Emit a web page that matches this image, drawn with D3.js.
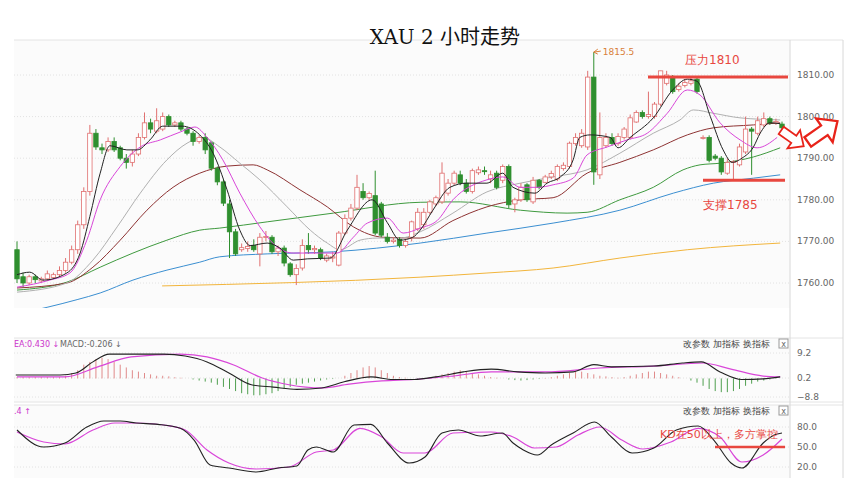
<!DOCTYPE html>
<html><head><meta charset="utf-8">
<script src="https://cdn.jsdelivr.net/npm/d3@7"></script>
<style>body{margin:0;background:#fff}text{font-family:"DejaVu Sans",sans-serif}</style>
</head><body><div id="chart"></div>
<script>
// candles [open, high, low, close]
var candles = [
[1768,1770,1760,1761],[1761.5,1762.5,1759,1760],[1760,1762,1759.5,1761.5],[1761.5,1762,1760,1760.8],[1760.5,1761.5,1760,1761],
[1761,1763,1760.5,1762.2],[1761.3,1762.5,1761,1762],[1762,1764,1761.5,1763],[1763,1766,1762.5,1765],[1765,1769,1764.5,1768],
[1768,1775,1767,1774],[1774,1783,1773,1782],[1782,1798,1781,1796],[1796,1797,1792,1792.7],[1792.5,1793.5,1791,1792],
[1792,1795,1791.5,1794],[1794,1795,1791.5,1792],[1792.5,1793,1789.5,1790],[1790,1791,1787.5,1789],[1789,1792,1788,1791],
[1791,1796,1790.5,1795],[1795,1801,1794.5,1798.5],[1798.5,1799.5,1796,1797],[1796.5,1802,1796,1799],[1797,1801,1796.5,1800],
[1800,1800.5,1797.5,1798],[1798,1799,1797.5,1798.5],[1798.5,1799,1796.5,1797],[1797,1797.5,1795.5,1796],[1796,1796.5,1793,1794],
[1794,1795.5,1793.5,1795],[1795,1796,1791,1792],[1793.7,1794,1787,1787.6],[1787.6,1788,1783.5,1784.3],[1784.3,1785,1778.5,1779.2],
[1779,1780,1766,1772.3],[1772.3,1773,1766.5,1767],[1768,1769.5,1767.5,1768.5],[1768.3,1770,1767.5,1768.8],[1769,1770.5,1767.5,1768],
[1767,1772,1764,1771],[1771,1772.5,1770,1771.2],[1771,1771.5,1767,1767.5],[1767.5,1769,1766.5,1768.4],[1768.4,1769,1764,1764.8],
[1764.6,1765,1761.5,1762],[1762,1764.5,1759.5,1763.5],[1763.6,1770.5,1763,1769],[1769,1772,1767,1768],[1768,1769,1767,1768.3],
[1768,1768.5,1765.5,1766],[1765.5,1767,1765,1766.5],[1766,1767.5,1765,1766.3],[1764.3,1772.5,1764,1772],[1772,1776.5,1771.5,1775.5],
[1775.6,1779,1775,1778],[1778,1786,1777.5,1783],[1782,1784,1780,1780.5],[1780.5,1782,1780,1781.5],[1781,1787,1771.5,1772],
[1779,1779.5,1771,1771.5],[1771,1772,1769.5,1770],[1770,1771,1769.5,1770.3],[1770.5,1771,1768.5,1769],[1769,1770.5,1768.5,1770],
[1771,1775,1770,1774.7],[1773,1778,1772.5,1777],[1774,1778,1773,1777],[1777,1780,1776.5,1779.5],[1779,1781,1778.5,1780.5],
[1779.5,1789,1779,1786.4],[1781.6,1785,1781,1784],[1784,1787,1783.5,1786.4],[1786,1787,1783.5,1784],[1784,1785,1781.5,1782],
[1782,1787.5,1781.5,1787],[1786.5,1788,1786,1787.2],[1787,1788,1786,1786.8],[1785,1787,1784,1786],[1786.4,1787,1782.5,1783],
[1784.7,1788.5,1784,1788],[1788,1788.5,1778,1778.8],[1779,1780.5,1777,1780],[1780,1784,1779.5,1783],[1783.6,1784,1779.5,1780],
[1779.5,1785.5,1779,1784.7],[1784.7,1785,1782.5,1783],[1784.2,1786,1784,1785.5],[1785.5,1787,1785,1786.3],[1785,1788.5,1784.5,1788],
[1787.5,1789,1787,1788.3],[1788,1794,1787.5,1793.6],[1793.5,1796,1793,1795],[1793,1797,1792.5,1796],[1792.7,1811,1792,1809.5],
[1809.5,1815.5,1783.6,1786.7],[1786,1801,1785,1795],[1793,1796,1792.5,1795],[1795,1796,1793,1793.5],[1793.5,1796,1793,1795.2],
[1795,1797.5,1794.5,1797],[1795,1800.5,1794.5,1799.7],[1798.7,1801.5,1798.5,1801],[1801,1801.5,1799.5,1800],[1800,1806,1799.5,1800.5],
[1800,1803.5,1799.5,1803],[1803,1811,1802.5,1811],[1808,1811,1807.5,1810],[1809.5,1810,1805.5,1806],[1806.5,1808,1806,1807.3],
[1807.5,1809,1807,1808.2],[1808,1809.5,1807.5,1808.6],[1809,1809.5,1805.5,1806],[1795,1795.5,1794.5,1795],[1795,1795.5,1789,1789.5],
[1790.5,1791,1789.5,1790],[1790,1790.5,1786,1786.7],[1786.4,1790,1786,1789],[1789,1789.5,1785,1789.2],[1788.4,1793.5,1788,1792.7],
[1791.5,1800,1791,1797],[1797,1797.5,1786,1796.5],[1796,1800,1795.5,1799],[1798,1801,1797.5,1799.5],[1799.5,1800,1798,1798.5],
[1798.5,1799.5,1798,1798.8],[1798.2,1798.8,1797,1797.3]
];

// moving averages: [candle index, price]
var ma5 = [[0,1762],[2.1,1762.6],[4.3,1760.7],[8.2,1762.4],[10.4,1767.2],[12,1776],[13.7,1786.4],[15.3,1793],[18.1,1792],[19.8,1792],[21.9,1794.4],[24,1797.7],[27.2,1797.7],[30.1,1795.6],[32.3,1791.2],[34.6,1782.4],[36.7,1772.7],[38.4,1769],[41.2,1769.6],[43.3,1768.4],[45.5,1765.5],[47.8,1765.8],[51.6,1766],[54.4,1772.7],[58.5,1780],[61,1774.5],[63.1,1770.3],[65.2,1771],[66.4,1772.7],[68.5,1777.5],[71.3,1783],[74.1,1784],[77.4,1784],[80,1786.4],[81.7,1783],[85.3,1781.6],[87.3,1784],[89.5,1785.5],[91.6,1789.6],[92.7,1795],[94.4,1795.6],[97.7,1795],[99,1792.5],[101,1795],[104.8,1799.7],[108,1806.4],[110.4,1809],[112,1808.5],[114.2,1800],[116.3,1792],[117.8,1789],[119.4,1790],[121.3,1792.7],[122.4,1796],[124,1798.5],[125.7,1798.3]];
var ma10 = [[0,1759],[5.4,1760.7],[8.7,1762.4],[11.5,1770.3],[13.7,1780],[17,1788],[20.3,1792.7],[23.6,1794.4],[26.9,1796.3],[29.3,1797.5],[31.3,1795],[33.9,1789.6],[36.7,1781.6],[40,1773.5],[42.8,1768.7],[45.5,1767.2],[49.9,1767.2],[52.7,1767.2],[55.4,1771],[57.7,1774.4],[61,1775.6],[63.6,1772],[66.4,1773.2],[69.2,1775],[71.8,1780],[77.4,1784.8],[80,1785.5],[82.9,1783],[85.7,1783],[88.3,1783.6],[91.6,1785.2],[93.9,1790.8],[97.2,1792.7],[100.5,1794.4],[103.8,1796],[107.1,1800.8],[110.4,1806.4],[112.5,1805.2],[115.8,1798.5],[119.1,1794.4],[121.9,1792.5],[125.2,1795]];
var ma20 = [[0,1757.8],[8.2,1760],[12.5,1765.5],[16.5,1773.5],[20.3,1781.6],[24.7,1789.6],[28,1793.6],[30.6,1795],[33.4,1792.7],[36.7,1788.8],[40,1784.8],[44.5,1778.3],[48.3,1772.7],[51.1,1769.6],[53.2,1768],[56.5,1770.3],[59.3,1770.8],[63.1,1770.8],[66.4,1772.3],[71.8,1776.8],[77.4,1781.9],[82.9,1784],[88.3,1785.5],[93.9,1787.2],[99.3,1791.2],[104.8,1796],[109.2,1799.2],[111.4,1801.6],[114.7,1800.8],[119.1,1799.7],[125.7,1799.2]];
var ma30 = [[0,1758.8],[8.2,1760],[12.5,1763.8],[17,1770.3],[21.4,1777.5],[25.7,1783],[30.1,1786.4],[34.6,1788.1],[38.9,1788.4],[41.2,1787.2],[46.6,1782.4],[51.1,1778.3],[55.4,1773.5],[60.3,1771],[66.4,1770.8],[71.8,1775],[77.4,1778.3],[82.9,1780],[88.3,1780.5],[93.9,1786.4],[99.3,1789],[104.8,1792],[110.4,1795.6],[114.7,1797.3],[121.3,1798],[125.7,1798.5]];
var ma60 = [[0,1758.3],[8.2,1760.2],[13.7,1763.8],[19.1,1767.2],[24.7,1770.3],[30.1,1772.7],[33.4,1773.2],[41.2,1774.7],[52.1,1776.8],[66.4,1779.4],[73,1779.5],[82.9,1777.5],[90.6,1776.8],[93.9,1777],[99.3,1780],[104.8,1783],[109.7,1787.2],[112.5,1788.4],[115.8,1788.8],[121.3,1790.3],[125.7,1792.5]];
var ma120 = [[0,1752.5],[9.9,1756],[13.7,1757.6],[19.1,1760.7],[24.7,1763.1],[30.1,1765],[33.4,1766.3],[41.2,1767],[52.1,1767.5],[66.4,1769.6],[77.4,1772],[88.3,1774.4],[99.3,1777.5],[108.1,1781.6],[114.7,1784],[121.3,1785.2],[125.7,1786]];
var ma250 = [[23.9,1759.3],[66.4,1761.4],[77.4,1762.4],[88.3,1763.6],[99.3,1766],[110.4,1768],[125.7,1769.6]];

var dif = [[-0.2,1.3],[7.1,1.3],[9.7,2],[12.5,6],[15.2,8.8],[18.8,8.8],[24.2,8.8],[27.7,8.1],[31.3,6],[34.9,2],[38.6,-3],[42.2,-4.1],[46.1,-5.2],[50.2,-4.5],[53.9,-1.6],[58.3,0.6],[61.9,-0.5],[65.4,-0.5],[69,0.6],[73.5,2.4],[78.1,3.4],[82.5,2.4],[87,2],[91.6,2.4],[95,5],[97.9,4.2],[104.9,4.5],[109.6,5.6],[112.7,6],[115.8,2.4],[119.4,-0.5],[122.9,-0.2],[125.7,0.6]];
var dea = [[0,0.6],[7.9,0.6],[13.3,4.2],[18.8,7.8],[26.9,8.8],[31.3,7.8],[35.7,4.9],[40.4,0.2],[44.8,-3],[50.2,-4.5],[54.7,-2.7],[60.1,-1.2],[65.4,-0.5],[71.8,0.9],[78.1,2.4],[87,2.4],[96,3.8],[104.9,4.5],[113,5.6],[117.6,3.4],[122.9,0.9],[125.7,0.6]];
var macdHist = [0.5,0.5,0.5,0.5,0.5,0.5,0.5,0.5, 1,2,3,5,6, 7,7.5,7,6,5,4, 3,2.5,2,1.5,1,1,0.8,0.5,0.3,
  0,-0.5,-1,-1.5, -2,-3,-4,-5,-6,-7,-7.5,-8,-8,-7.5,-7,-6,-5,-4, -3,-2.5,-2,-1.5,-1,-0.5,-0.3,0,
  1,2,3,4,4.5,4,3,2,1, 0.5,0.3,0,-0.3,0.2,0.5,1,1.5, 2,2.5,3,2.5,2,1.5,1,0.5,0.3,0,
  -0.5,-0.8,-1,-0.8,-0.5,-0.3,0.2,0.5, 1,1.5,2,2.5,2.5,2,1.5, 1,0.8,0.5,0.3,0.5,1,1.5,2,2.5,2.5,2,
  1.5,1,0.5,0,-1,-2, -3.5,-5,-6,-6.5,-6.5,-6,-5,-3.5,-2.5, -1.5,-1,-0.5,-0.2,0];

var kLine = [[0,75.5],[4.4,50],[7.9,56],[11.5,80],[14.3,89],[17,89],[19.6,86],[23.2,84],[26.9,78],[29.2,60],[31.8,23],[34.9,18.5],[39.4,12.5],[43,18.5],[46.1,21.5],[47.9,45.5],[49.3,50],[52.1,42.5],[55.5,83],[58.3,84],[61,56],[64.6,26],[67.2,35],[70,71],[72.7,75.5],[76.3,66.5],[79.9,71],[81.7,56],[83.4,45.5],[85.7,38],[88,53],[91.6,71],[95.1,87.5],[97.9,65],[101.3,41],[104.9,48.5],[108.6,75.5],[112.2,81.5],[114.8,60],[117.6,26],[119.4,18.5],[122.9,56],[124.7,68],[126,71]];
var dLine = [[0,72.5],[4.4,57.5],[7.9,54.5],[12.5,75.5],[16.1,86],[19.6,86],[24.2,83],[27.7,75.5],[31.3,45.5],[34.9,26],[39.4,17],[44.8,20],[49.3,42.5],[52.1,45.5],[56.5,78],[60.1,65],[63.6,41],[67.2,41],[71.8,71],[78.1,72.5],[81.7,65],[85.2,48.5],[88.8,50],[92.4,68],[96,80],[99.7,60],[103.1,47],[107.7,57.5],[112.2,78],[115.8,65],[119.4,27.5],[122.9,38],[126,62]];

var priceTicks = [1760, 1770, 1780, 1790, 1800, 1810];
var macdTicks = [9.2, 0.2, -8.8];
var kdTicks = [80, 50, 20];

var W = 844, H = 478;
var svg = d3.select('#chart').append('svg').attr('width', W).attr('height', H);

var x = d3.scaleLinear().domain([0, 126]).range([17, 782]);
var y = d3.scaleLinear().domain([1760, 1810]).range([283, 75]);
var ym = d3.scaleLinear().domain([-8.8, 0.2, 9.2]).range([397, 378, 353]);
var yk = d3.scaleLinear().domain([20, 80]).range([467, 427]);

// panel frame
svg.append('rect').attr('x', 14).attr('y', 40).attr('width', 776).attr('height', 268).attr('fill', '#fbfbfb');
svg.append('rect').attr('x', 14).attr('y', 338).attr('width', 776).attr('height', 64).attr('fill', '#fbfbfb');
svg.append('rect').attr('x', 14).attr('y', 405).attr('width', 776).attr('height', 73).attr('fill', '#fbfbfb');
[40, 338, 402, 405].forEach(function (v) {
  svg.append('line').attr('x1', 14).attr('x2', 843).attr('y1', v).attr('y2', v).attr('stroke', '#e4e4e4');
});
svg.append('line').attr('x1', 790).attr('x2', 790).attr('y1', 40).attr('y2', 478).attr('stroke', '#d8d8d8');
svg.append('line').attr('x1', 843).attr('x2', 843).attr('y1', 40).attr('y2', 478).attr('stroke', '#d8d8d8');

function grid(scale, ticks, fmt) {
  ticks.forEach(function (t) {
    svg.append('line').attr('x1', 14).attr('x2', 790).attr('y1', scale(t)).attr('y2', scale(t))
      .attr('stroke', '#e2e2e2').attr('stroke-dasharray', '1,2');
    svg.append('text').attr('x', 797).attr('y', scale(t) + 3).attr('font-size', 9).attr('fill', '#666').text(fmt(t));
  });
}
grid(y, priceTicks, d3.format('.2f'));
grid(ym, macdTicks, d3.format('.1f'));
grid(yk, kdTicks, d3.format('.1f'));

svg.append('clipPath').attr('id', 'mainclip').append('rect').attr('x', 14).attr('y', 40).attr('width', 776).attr('height', 268);
var main = svg.append('g').attr('clip-path', 'url(#mainclip)');

function drawLine(g, data, sx, sy, color, w) {
  g.append('path').datum(data)
    .attr('d', d3.line().x(function (d) { return sx(d[0]); }).y(function (d) { return sy(d[1]); }).curve(d3.curveMonotoneX))
    .attr('fill', 'none').attr('stroke', color).attr('stroke-width', w || 1);
}
drawLine(main, ma250, x, y, '#f2b53c');
drawLine(main, ma120, x, y, '#3b8fd1');
drawLine(main, ma60, x, y, '#3f9a3f');
drawLine(main, ma30, x, y, '#8e3333');
drawLine(main, ma20, x, y, '#b0b0b0');

var up = '#e07070', down = '#2f8f2f';
var cg = main.selectAll('.candle').data(candles).enter().append('g');
cg.append('line')
  .attr('x1', function (d, i) { return x(i); }).attr('x2', function (d, i) { return x(i); })
  .attr('y1', function (d) { return y(d[1]); }).attr('y2', function (d) { return y(d[2]); })
  .attr('stroke', function (d) { return d[3] >= d[0] ? up : down; });
cg.append('rect')
  .attr('x', function (d, i) { return x(i) - 2.2; }).attr('width', 4.4)
  .attr('y', function (d) { return y(Math.max(d[0], d[3])); })
  .attr('height', function (d) { return Math.max(1, Math.abs(y(d[0]) - y(d[3]))); })
  .attr('fill', function (d) { return d[3] >= d[0] ? '#fff' : down; })
  .attr('stroke', function (d) { return d[3] >= d[0] ? up : down; }).attr('stroke-width', 0.8);

drawLine(main, ma10, x, y, '#d946d9');
drawLine(main, ma5, x, y, '#222');

// annotations
svg.append('path').attr('d', 'M' + x(95) + ',' + y(1815.5) + ' l4,-3 M' + x(95) + ',' + y(1815.5) + ' l4,2 M' + x(95) + ',' + y(1815.5) + ' l7,-1')
  .attr('stroke', '#d9803a').attr('fill', 'none');
svg.append('text').attr('x', x(95) + 9).attr('y', y(1815.5) + 3).attr('font-size', 9).attr('fill', '#d9803a').text('1815.5');
svg.append('line').attr('x1', 648).attr('x2', 788).attr('y1', y(1809.5)).attr('y2', y(1809.5)).attr('stroke', '#e8473f').attr('stroke-width', 3);
svg.append('text').attr('x', 685).attr('y', 64).attr('font-size', 12).attr('fill', '#e8473f').text('压力1810');
svg.append('line').attr('x1', 703).attr('x2', 785).attr('y1', y(1784.7)).attr('y2', y(1784.7)).attr('stroke', '#e8473f').attr('stroke-width', 3);
svg.append('text').attr('x', 703).attr('y', 209).attr('font-size', 12).attr('fill', '#e8473f').text('支撑1785');

function blockArrow(cx, cy, ang, s) {
  svg.append('path').attr('d', 'M-12,-4 L2,-4 L2,-10 L13,0 L2,10 L2,4 L-12,4 Z')
    .attr('transform', 'translate(' + cx + ',' + cy + ') rotate(' + ang + ') scale(' + s + ')')
    .attr('fill', '#fff').attr('stroke', '#e8231a').attr('stroke-width', 1.6);
}
blockArrow(792, 138, 35, 1.1);
blockArrow(822, 132, -35, 1.45);

// MACD panel
var mg = svg.append('g');
mg.selectAll('.bar').data(macdHist).enter().append('line')
  .attr('x1', function (d, i) { return x(i); }).attr('x2', function (d, i) { return x(i); })
  .attr('y1', ym(0)).attr('y2', function (d) { return ym(d); })
  .attr('stroke', function (d) { return d >= 0 ? '#e08a8a' : '#4f9f4f'; }).attr('stroke-width', 1);
drawLine(mg, dea, x, ym, '#d946d9', 1.2);
drawLine(mg, dif, x, ym, '#222', 1.1);
svg.append('text').attr('x', 14).attr('y', 347).attr('font-size', 8).attr('fill', '#cc33cc').text('EA:0.430 ↓');
svg.append('text').attr('x', 60).attr('y', 347).attr('font-size', 8).attr('fill', '#666').text('MACD:-0.206 ↓');

// KD panel
var kg = svg.append('g');
drawLine(kg, dLine, x, yk, '#d946d9', 1.2);
drawLine(kg, kLine, x, yk, '#222', 1.1);
svg.append('text').attr('x', 14).attr('y', 414).attr('font-size', 8).attr('fill', '#cc33cc').text('.4 ↑');
svg.append('text').attr('x', 660).attr('y', 438).attr('font-size', 11).attr('fill', '#e8473f').text('KD在50以上，多方掌控');
svg.append('line').attr('x1', 715).attr('x2', 785).attr('y1', yk(50)).attr('y2', yk(50)).attr('stroke', '#e8473f').attr('stroke-width', 2.5);

[347, 414].forEach(function (ty) {
  svg.append('text').attr('x', 683).attr('y', ty).attr('font-size', 9).attr('fill', '#444').text('改参数  加指标  换指标');
  svg.append('rect').attr('x', 779).attr('y', ty - 8).attr('width', 9).attr('height', 9).attr('fill', '#fff').attr('stroke', '#999');
  svg.append('text').attr('x', 783.5).attr('y', ty - 0.5).attr('font-size', 8).attr('text-anchor', 'middle').attr('fill', '#666').text('x');
});

// title
svg.append('text').attr('x', 445).attr('y', 44).attr('text-anchor', 'middle')
  .style('font-family', '"DejaVu Serif", "Noto Sans CJK SC", serif').attr('font-size', 20).attr('fill', '#111').text('XAU 2 小时走势');
</script></body></html>
